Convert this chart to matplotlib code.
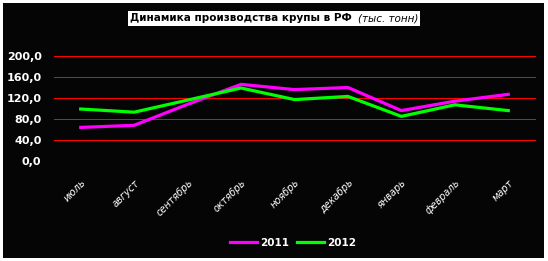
import matplotlib
matplotlib.use('Agg')
import matplotlib.pyplot as plt
from matplotlib.patches import Rectangle

months = ['июль', 'август', 'сентябрь', 'октябрь', 'ноябрь',
          'декабрь', 'январь', 'февраль', 'март']
y2011 = [64, 68, 108, 146, 136, 140, 96, 114, 127]
y2012 = [99, 93, 116, 139, 117, 123, 85, 107, 96]
yticks = [0, 40, 80, 120, 160, 200]

fig = plt.figure(figsize=(5.48, 2.61), dpi=100)
fig.patch.set_facecolor('white')
# black panel with a thin white margin
fig.add_artist(Rectangle((3 / 548, 3 / 261), 541 / 548, 255 / 261,
                         transform=fig.transFigure, facecolor='#050505',
                         edgecolor='none', zorder=-10))

# height of 105 px keeps every gridline on a whole-pixel step
ax = fig.add_axes([54 / 548, 100 / 261, 481 / 548, 105 / 261])
ax.set_facecolor('#050505')
x = range(len(months))
for v in yticks[1:]:
    ax.axhline(v, color='#ff0000', lw=0.72, zorder=1, clip_on=False,
               antialiased=False)
ax.plot(x, y2011, color='#ff00ff', lw=2.3, label='2011', zorder=3)
ax.plot(x, y2012, color='#00ff00', lw=2.3, label='2012', zorder=3)

ax.set_xlim(-0.5, len(months) - 0.5)
ax.set_ylim(0, 200)
ax.set_yticks(yticks)
ax.set_yticklabels([('%.1f' % v).replace('.', ',') for v in yticks],
                   color='white', fontweight='bold', fontsize=8)
ax.set_xticks(list(x))
ax.set_xticklabels(months, rotation=45, ha='right', va='top',
                   rotation_mode='anchor', color='white',
                   fontstyle='italic', fontsize=7)
ax.tick_params(axis='x', length=0, pad=12)
ax.tick_params(axis='y', length=0, pad=9)
for s in ax.spines.values():
    s.set_visible(False)

leg = fig.legend(loc='center', bbox_to_anchor=(0.535, 0.07), ncol=2,
                 frameon=False, handlelength=2.6, columnspacing=0.8,
                 handletextpad=0.3, prop={'weight': 'bold', 'size': 7.5})
for t in leg.get_texts():
    t.set_color('white')

# title: bold part + italic part inside one white box
t1 = fig.text(0.237, 0.93, 'Динамика производства крупы в РФ', fontsize=7.5,
              fontweight='bold', color='black', ha='left', va='center')
fig.canvas.draw()
r = fig.canvas.get_renderer()
bb1 = t1.get_window_extent(r)
t2 = fig.text((bb1.x1 + 6) / fig.bbox.width, 0.93, '(тыс. тонн)', fontsize=7.5,
              fontstyle='italic', color='black', ha='left', va='center')
bb2 = t2.get_window_extent(r)
x0 = (bb1.x0 - 2) / fig.bbox.width
x1 = (bb2.x1 + 2) / fig.bbox.width
fig.add_artist(Rectangle((x0, 0.9), x1 - x0, 0.058, transform=fig.transFigure,
                         facecolor='white', edgecolor='none', zorder=-5))

fig.savefig('out.png', dpi=100, facecolor=fig.get_facecolor())
